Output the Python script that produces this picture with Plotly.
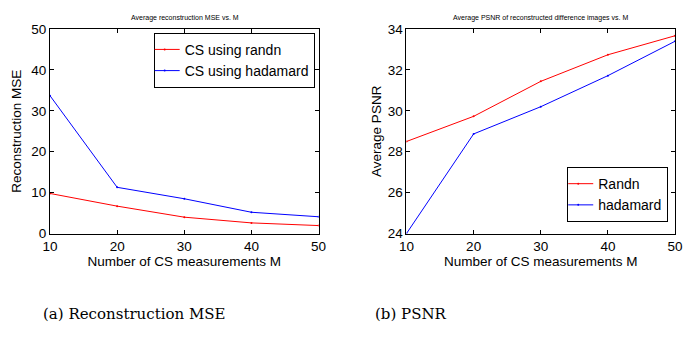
import plotly.graph_objects as go

M = [10, 20, 30, 40, 50]
mse_randn = [9.8, 6.7, 4.0, 2.6, 1.95]
mse_hadamard = [33.7, 11.3, 8.5, 5.2, 4.1]
psnr_randn = [28.5, 29.73, 31.44, 32.74, 33.67]
psnr_hadamard = [24.0, 28.87, 30.2, 31.72, 33.4]

FONT = "Liberation Sans, Arial, sans-serif"
SERIF = "DejaVu Serif, Liberation Serif, serif"

fig = go.Figure()
fig.add_trace(go.Scatter(x=M, y=mse_randn, mode="lines+markers", name="CS using randn",
                         line=dict(color="red", width=1), marker=dict(size=2, color="red"),
                         xaxis="x", yaxis="y", legend="legend"))
fig.add_trace(go.Scatter(x=M, y=mse_hadamard, mode="lines+markers", name="CS using hadamard",
                         line=dict(color="blue", width=1), marker=dict(size=2, color="blue"),
                         xaxis="x", yaxis="y", legend="legend"))
fig.add_trace(go.Scatter(x=M, y=psnr_randn, mode="lines+markers", name="Randn",
                         line=dict(color="red", width=1), marker=dict(size=2, color="red"),
                         xaxis="x2", yaxis="y2", legend="legend2"))
fig.add_trace(go.Scatter(x=M, y=psnr_hadamard, mode="lines+markers", name="hadamard",
                         line=dict(color="blue", width=1), marker=dict(size=2, color="blue"),
                         xaxis="x2", yaxis="y2", legend="legend2"))

W, H = 686, 340
def px(x):
    return x / W
def py(y):
    return 1 - y / H

axcommon = dict(showgrid=False, zeroline=False, showline=True, linecolor="black", linewidth=1,
                mirror="ticks", ticks="inside", ticklen=4, tickcolor="black",
                tickfont=dict(family=FONT, size=13.5, color="black"))

fig.update_layout(
    width=W, height=H, margin=dict(l=0, r=0, t=0, b=0),
    paper_bgcolor="white", plot_bgcolor="white",
    font=dict(family=FONT, color="black"),
    xaxis=dict(domain=[px(43), px(318)], range=[10, 50], tickvals=[10, 20, 30, 40, 50],
               anchor="y", title=dict(text="Number of CS measurements M", font=dict(size=13.5), standoff=0),
               **axcommon),
    yaxis=dict(domain=[py(237), py(23)], range=[0, 50], tickvals=[0, 10, 20, 30, 40, 50],
               anchor="x", title=dict(text="Reconstruction MSE", font=dict(size=13.5), standoff=6),
               **axcommon),
    xaxis2=dict(domain=[px(408), px(683)], range=[10, 50], tickvals=[10, 20, 30, 40, 50],
                anchor="y2", title=dict(text="Number of CS measurements M", font=dict(size=13.5), standoff=0),
                **axcommon),
    yaxis2=dict(domain=[py(237), py(23)], range=[24, 34], tickvals=[24, 26, 28, 30, 32, 34],
                anchor="x2", title=dict(text="Average PSNR", font=dict(size=13.5), standoff=3),
                **axcommon),
    legend=dict(x=px(314), y=py(27), xanchor="right", yanchor="top",
                bordercolor="black", borderwidth=1, bgcolor="white",
                font=dict(family=FONT, size=14), tracegroupgap=0,
                itemwidth=30, indentation=-10),
    legend2=dict(x=px(676), y=py(225), xanchor="right", yanchor="bottom",
                 bordercolor="black", borderwidth=1, bgcolor="white",
                 font=dict(family=FONT, size=14), tracegroupgap=0,
                 itemwidth=30, indentation=-10),
    annotations=[
        dict(text="Average reconstruction MSE vs. M", x=px(181), y=py(11.5), xref="paper", yref="paper",
             xanchor="center", yanchor="middle",
             showarrow=False, font=dict(family=FONT, size=7, color="black")),
        dict(text="Average PSNR of reconstructed difference images vs. M", x=px(545), y=py(11.5),
             xanchor="center", yanchor="middle",
             xref="paper", yref="paper", showarrow=False, font=dict(family=FONT, size=7, color="black")),
        dict(text="(a) Reconstruction MSE", x=px(130), y=py(321), xref="paper", yref="paper",
             xanchor="center", yanchor="middle",
             showarrow=False, font=dict(family=SERIF, size=15, color="black")),
        dict(text="(b) PSNR", x=px(413), y=py(321), xref="paper", yref="paper",
             xanchor="center", yanchor="middle",
             showarrow=False, font=dict(family=SERIF, size=15, color="black")),
    ],
)

fig.write_html("out.html")
